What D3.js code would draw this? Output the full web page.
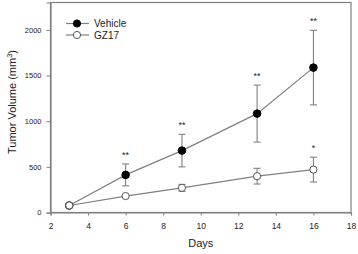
<!DOCTYPE html>
<html>
<head>
<meta charset="utf-8">
<script src="https://cdnjs.cloudflare.com/ajax/libs/d3/7.8.5/d3.min.js"></script>
<style>
body { margin: 0; background: #fff; overflow: hidden; }
svg { display: block; font-family: Arial, "Liberation Sans", sans-serif; }
</style>
</head>
<body>
<div id="chart"></div>
<script>
// data
var days = [3, 6, 9, 13, 16];
var vehicleMean = [77, 412, 678, 1083, 1587];
var vehicleErr  = [0, 120, 178, 312, 408];
var gz17Mean = [77, 180, 270, 398, 470];
var gz17Err  = [0, 0, 38, 86, 136];
var vehicleStars = ["", "**", "**", "**", "**"];
var gz17Stars    = ["", "", "", "", "*"];
var xTicks = [2, 4, 6, 8, 10, 12, 14, 16, 18];
var yTicks = [0, 500, 1000, 1500, 2000];

var outerWidth = 358, outerHeight = 254;
var margin = { left: 50.5, top: 2.5, right: 7, bottom: 41.5 };
var innerWidth = outerWidth - margin.left - margin.right;
var innerHeight = outerHeight - margin.top - margin.bottom;

var x = d3.scaleLinear().domain([2, 18]).range([0, innerWidth]);
var y = d3.scaleLinear().domain([0, 2300]).range([innerHeight, 0]);

var svg = d3.select("#chart").append("svg")
  .attr("width", outerWidth)
  .attr("height", outerHeight);

var g = svg.append("g")
  .attr("transform", "translate(" + margin.left + "," + margin.top + ")");

var gray = "#808080";

// frame
g.append("rect")
  .attr("width", innerWidth).attr("height", innerHeight)
  .attr("fill", "none").attr("stroke", gray).attr("stroke-width", 1.2);

// x axis
var xAxis = g.append("g")
  .attr("transform", "translate(0," + innerHeight + ")")
  .call(d3.axisBottom(x).tickValues(xTicks).tickSize(3).tickPadding(7).tickFormat(d3.format("d")));
xAxis.select(".domain").attr("stroke", gray).attr("stroke-width", 1.2);
xAxis.selectAll("line").attr("stroke", gray);
xAxis.selectAll("text").style("font-size", "8.5px").attr("fill", "#222");
svg.append("text")
  .attr("x", margin.left + innerWidth / 2).attr("y", 247)
  .attr("text-anchor", "middle")
  .style("font-size", "11px").attr("fill", "#222")
  .text("Days");

// y axis
var yAxis = g.append("g")
  .call(d3.axisLeft(y).tickValues(yTicks).tickSize(4).tickPadding(5).tickFormat(d3.format("d")));
yAxis.select(".domain").attr("stroke", gray).attr("stroke-width", 1.2);
yAxis.selectAll("line").attr("stroke", gray);
yAxis.selectAll("text").style("font-size", "7.5px").attr("fill", "#222");

var yTitle = svg.append("text")
  .attr("transform", "translate(16,102) rotate(-90)")
  .attr("text-anchor", "middle")
  .style("font-size", "11px").attr("fill", "#222");
yTitle.append("tspan").text("Tumor Volume (mm");
yTitle.append("tspan").attr("dy", -4).style("font-size", "7.5px").text("3");
yTitle.append("tspan").attr("dy", 4).text(")");

var line = d3.line()
  .x(function (d) { return x(d.day); })
  .y(function (d) { return y(d.v); });

function drawSeries(means, errs, stars, filled) {
  var pts = days.map(function (d, i) {
    return { day: d, v: means[i], e: errs[i], s: stars[i] };
  });
  var s = g.append("g");
  s.append("path")
    .attr("d", line(pts))
    .attr("fill", "none").attr("stroke", gray).attr("stroke-width", 1.2);
  var eb = s.selectAll("g.err").data(pts.filter(function (d) { return d.e > 0; }))
    .enter().append("g").attr("class", "err")
    .attr("stroke", gray).attr("stroke-width", 1.1);
  eb.append("line")
    .attr("x1", function (d) { return x(d.day); }).attr("x2", function (d) { return x(d.day); })
    .attr("y1", function (d) { return y(d.v - d.e); }).attr("y2", function (d) { return y(d.v + d.e); });
  eb.append("line")
    .attr("x1", function (d) { return x(d.day) - 3.5; }).attr("x2", function (d) { return x(d.day) + 3.5; })
    .attr("y1", function (d) { return y(d.v + d.e); }).attr("y2", function (d) { return y(d.v + d.e); });
  eb.append("line")
    .attr("x1", function (d) { return x(d.day) - 3.5; }).attr("x2", function (d) { return x(d.day) + 3.5; })
    .attr("y1", function (d) { return y(d.v - d.e); }).attr("y2", function (d) { return y(d.v - d.e); });
  s.selectAll("circle").data(pts).enter().append("circle")
    .attr("cx", function (d) { return x(d.day); })
    .attr("cy", function (d) { return y(d.v); })
    .attr("r", filled ? 3.8 : 3.6)
    .attr("fill", filled ? "#000" : "#fff")
    .attr("stroke", filled ? "#000" : "#555").attr("stroke-width", 1);
  s.selectAll("text.star").data(pts.filter(function (d) { return d.s; }))
    .enter().append("text").attr("class", "star")
    .attr("x", function (d) { return x(d.day); })
    .attr("y", function (d) { return y(d.v + d.e) - 6; })
    .attr("text-anchor", "middle")
    .style("font-size", "9px").attr("fill", "#222")
    .text(function (d) { return d.s; });
}

drawSeries(vehicleMean, vehicleErr, vehicleStars, true);
drawSeries(gz17Mean, gz17Err, gz17Stars, false);

// legend
var legend = [{ name: "Vehicle", filled: true }, { name: "GZ17", filled: false }];
var lg = svg.selectAll("g.legend").data(legend).enter().append("g")
  .attr("class", "legend")
  .attr("transform", function (d, i) { return "translate(66," + (23.5 + i * 11.5) + ")"; });
lg.append("line").attr("x1", 0).attr("x2", 23).attr("stroke", gray).attr("stroke-width", 1.2);
lg.append("circle").attr("cx", 11).attr("r", 3.6)
  .attr("fill", function (d) { return d.filled ? "#000" : "#fff"; })
  .attr("stroke", function (d) { return d.filled ? "#000" : "#555"; });
lg.append("text").attr("x", 28).attr("dy", "0.35em")
  .style("font-size", "10px").attr("fill", "#222")
  .text(function (d) { return d.name; });
</script>
</body>
</html>
